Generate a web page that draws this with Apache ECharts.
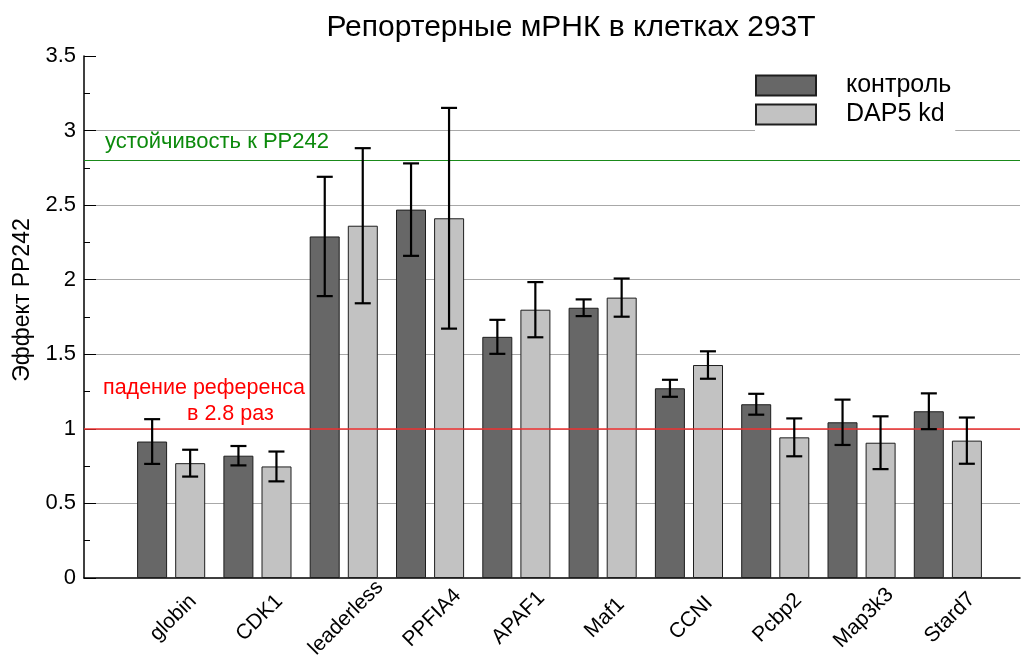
<!DOCTYPE html>
<html>
<head>
<meta charset="utf-8">
<script src="https://cdn.jsdelivr.net/npm/echarts@6/dist/echarts.min.js"></script>
<style>html,body{margin:0;padding:0;background:#fff}#c{width:1022px;height:670px}</style>
</head>
<body>
<div id="c"></div>
<script>
const categories = ['globin','CDK1','leaderless','PPFIA4','APAF1','Maf1','CCNI','Pcbp2','Map3k3','Stard7'];
const controlValues = [0.915, 0.82, 2.29, 2.47, 1.617, 1.812, 1.272, 1.165, 1.044, 1.118];
const controlErrors = [0.15, 0.065, 0.40, 0.31, 0.114, 0.056, 0.057, 0.07, 0.152, 0.12];
const kdValues = [0.77, 0.748, 2.362, 2.412, 1.799, 1.880, 1.428, 0.943, 0.907, 0.921];
const kdErrors = [0.09, 0.10, 0.52, 0.74, 0.185, 0.128, 0.092, 0.127, 0.177, 0.155];
const seriesNames = ['контроль', 'DAP5 kd'];
const yTicks = [0, 0.5, 1, 1.5, 2, 2.5, 3, 3.5];
const referenceLines = [1.0, 2.8];

const FONT = "'Liberation Sans', Arial, sans-serif";
const chart = echarts.init(document.getElementById('c'), null, {renderer: 'canvas'});

function errData(vals, errs) {
  return vals.map((v, i) => [i, v - errs[i], v + errs[i]]);
}
function errSeries(vals, errs, offset) {
  return {
    type: 'custom', xAxisIndex: 1, yAxisIndex: 1, z: 5,
    data: errData(vals, errs),
    encode: {x: 0, y: [1, 2]},
    renderItem: function (params, api) {
      const lo = api.coord([api.value(0), api.value(1)]);
      const hi = api.coord([api.value(0), api.value(2)]);
      const x = lo[0] + offset;
      const cap = 8;
      const st = {stroke: '#000', lineWidth: 2.2};
      return {type: 'group', children: [
        {type: 'line', shape: {x1: x, y1: lo[1], x2: x, y2: hi[1]}, style: st},
        {type: 'line', shape: {x1: x - cap, y1: lo[1], x2: x + cap, y2: lo[1]}, style: st},
        {type: 'line', shape: {x1: x - cap, y1: hi[1], x2: x + cap, y2: hi[1]}, style: st}
      ]};
    }
  };
}

const option = {
  animation: false,
  backgroundColor: '#fff',
  textStyle: {fontFamily: FONT},
  title: {
    text: 'Репортерные мРНК в клетках 293T',
    left: 566, top: 8, textAlign: 'center',
    textStyle: {fontFamily: FONT, fontSize: 30, fontWeight: 'normal', color: '#000'}
  },
  legend: {
    orient: 'vertical', left: 755, top: 68,
    itemWidth: 60, itemHeight: 20, itemGap: 4,
    icon: 'rect',
    padding: [5, 4, 8, 0],
    backgroundColor: '#fff',
    data: seriesNames,
    textStyle: {fontFamily: FONT, fontSize: 25, color: '#000', padding: [0, 0, 0, 25]}
  },
  grid: [
    {left: 84, right: 2, top: 56, bottom: 92},
    {left: 128, right: 31, top: 56, bottom: 92}
  ],
  xAxis: [
    {gridIndex: 0, type: 'value', min: 0, max: 1, axisLabel: {show: false}, axisTick: {show: false},
     splitLine: {show: false}, axisLine: {show: true, onZero: false, lineStyle: {color: '#000', width: 1.5}}},
    {gridIndex: 1, type: 'category', data: categories,
     axisLine: {show: false}, axisTick: {show: false},
     axisLabel: {rotate: 45, align: 'center', verticalAlign: 'middle', margin: 42, interval: 0,
                 padding: [0, 0, 0, 6],
                 fontFamily: FONT, fontSize: 21, color: '#000'}}
  ],
  yAxis: [
    {gridIndex: 0, type: 'value', min: yTicks[0], max: yTicks[yTicks.length - 1], interval: 0.5,
     axisLine: {show: true, lineStyle: {color: '#000', width: 1.5}},
     axisTick: {show: true, inside: true, length: 12, lineStyle: {color: '#000'}},
     minorTick: {show: true, splitNumber: 2, length: 6, lineStyle: {color: '#000'}},
     splitLine: {show: true, showMinLine: false, showMaxLine: false, lineStyle: {color: '#a8a8a8', width: 1}},
     axisLabel: {fontFamily: FONT, fontSize: 22, color: '#000', margin: 8}},
    {gridIndex: 1, type: 'value', min: yTicks[0], max: yTicks[yTicks.length - 1], show: false, splitLine: {show: false}}
  ],
  series: [
    {
      type: 'line', xAxisIndex: 0, yAxisIndex: 0, data: [], z: 1, silent: true,
      markLine: {
        symbol: 'none', silent: true, label: {show: false}, animation: false,
        data: [
          {yAxis: referenceLines[0], lineStyle: {color: '#ee3030', width: 1.5, type: 'solid'}},
          {yAxis: referenceLines[1], lineStyle: {color: '#1a8a1a', width: 1.2, type: 'solid'}}
        ]
      }
    },
    {
      name: seriesNames[0], type: 'bar', xAxisIndex: 1, yAxisIndex: 1, z: 3,
      data: controlValues, barWidth: 30, barGap: '27%',
      itemStyle: {color: '#676767', borderColor: '#1e1e1e', borderWidth: 1}
    },
    {
      name: seriesNames[1], type: 'bar', xAxisIndex: 1, yAxisIndex: 1, z: 3,
      data: kdValues, barWidth: 30, barGap: '27%',
      itemStyle: {color: '#c2c2c2', borderColor: '#1e1e1e', borderWidth: 1}
    },
    errSeries(controlValues, controlErrors, -19),
    errSeries(kdValues, kdErrors, 19)
  ],
  graphic: [
    {type: 'text', x: 23, y: 300, rotation: Math.PI / 2, z: 10,
     style: {text: 'Эффект PP242', align: 'center', verticalAlign: 'middle',
             font: "23px 'Liberation Sans', Arial, sans-serif", fill: '#000'}},
    {type: 'text', z: 10, x: 105, y: 142,
     style: {text: 'устойчивость к PP242', align: 'left', verticalAlign: 'middle',
             font: "22px 'Liberation Sans', Arial, sans-serif", fill: '#0c8a0c'}},
    {type: 'text', z: 10, x: 103, y: 388,
     style: {text: 'падение референса', align: 'left', verticalAlign: 'middle',
             font: "21.5px 'Liberation Sans', Arial, sans-serif", fill: '#ff0000'}},
    {type: 'text', z: 10, x: 187, y: 414,
     style: {text: 'в 2.8 раз', align: 'left', verticalAlign: 'middle',
             font: "21.5px 'Liberation Sans', Arial, sans-serif", fill: '#ff0000'}}
  ]
};
chart.setOption(option);
</script>
</body>
</html>
